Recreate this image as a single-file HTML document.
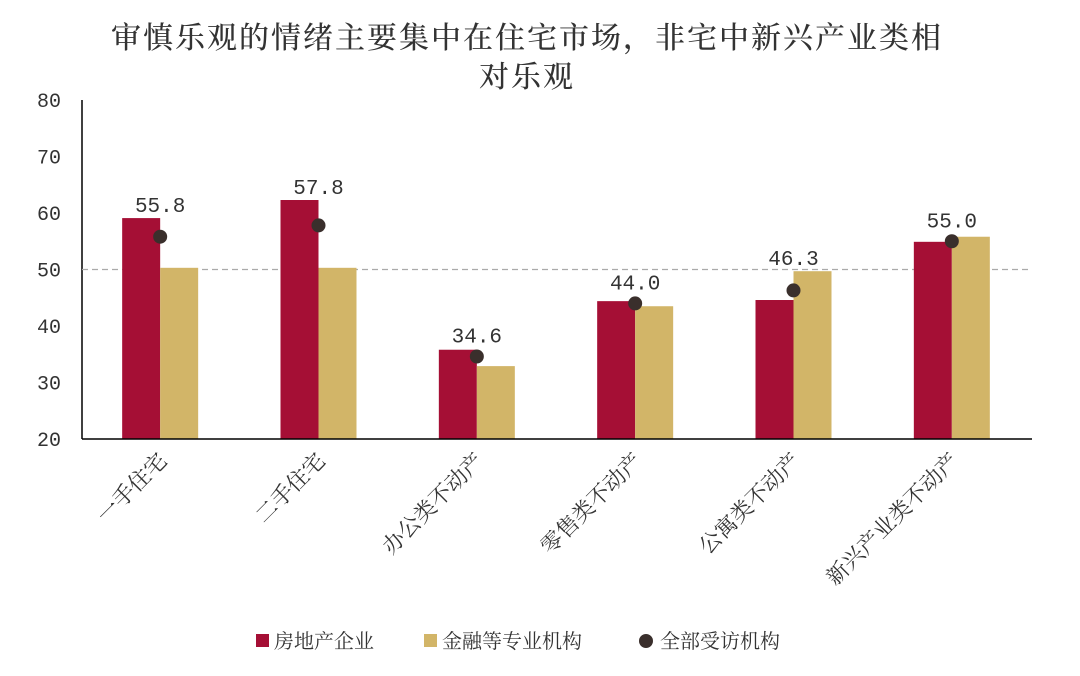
<!DOCTYPE html>
<html><head><meta charset="utf-8"><style>
body{margin:0;background:#fff;}
svg text{font-family:"Liberation Serif","Noto Serif CJK SC",serif;fill:#333;}
svg text.num{font-family:"Liberation Mono","Noto Serif CJK SC",monospace;}
</style></head><body>
<svg id="chart" width="1080" height="671" xmlns="http://www.w3.org/2000/svg">
<text x="527" y="48" font-size="30" letter-spacing="2" font-weight="500" fill="#3c3c3c" text-anchor="middle">审慎乐观的情绪主要集中在住宅市场，非宅中新兴产业类相</text>
<text x="527" y="87" font-size="30" letter-spacing="2" font-weight="500" fill="#3c3c3c" text-anchor="middle">对乐观</text>
<g id="plot"></g>
<g>
<rect x="256" y="634" width="13" height="13" fill="#a50f35"/>
<text x="274" y="648" font-size="20">房地产企业</text>
<rect x="424" y="634" width="13" height="13" fill="#d2b568"/>
<text x="442" y="648" font-size="20">金融等专业机构</text>
<circle cx="646" cy="641" r="7" fill="#3a2f2c"/>
<text x="660" y="648" font-size="20">全部受访机构</text>
</g>
</svg>
<script>
const categories=["一手住宅","二手住宅","办公类不动产","零售类不动产","公寓类不动产","新兴产业类不动产"];
const developerValues=[59.1,62.3,35.8,44.4,44.6,54.9];
const financeValues=[50.3,50.3,32.9,43.5,49.7,55.8];
const allValues=[55.8,57.8,34.6,44.0,46.3,55.0];
const yTicks=[20,30,40,50,60,70,80];
const NS="http://www.w3.org/2000/svg";
const g=document.getElementById('plot');
const x0=82,x1=1032,yMin=20,yMax=80,py0=439,py1=100;
const yS=v=>py0-(v-yMin)/(yMax-yMin)*(py0-py1);
const band=(x1-x0)/categories.length;
const xC=i=>x0+band*(i+0.5);
function mk(t,a){const e=document.createElementNS(NS,t);for(const k in a)e.setAttribute(k,a[k]);g.appendChild(e);return e;}
yTicks.forEach(v=>{
 const t=mk('text',{x:61,y:yS(v)+7,'font-size':20,'text-anchor':'end','class':'num'});t.textContent=v;
 
 
});
let ax=mk('line',{x1:x0,x2:x0,y1:py1,y2:py0,stroke:'#000','stroke-width':1.5});


let ref=mk('line',{x1:x0,x2:x1,y1:yS(50),y2:yS(50),stroke:'#aaa','stroke-width':1.3,'stroke-dasharray':'6,4'});


const bw=38;
categories.forEach((c,i)=>{
 const cx=xC(i)-1;
 const r=mk('rect',{x:cx-bw,y:yS(developerValues[i]),width:bw,height:py0-yS(developerValues[i]),fill:'#a50f35'});
 
 
 const f=mk('rect',{x:cx,y:yS(financeValues[i]),width:bw,height:py0-yS(financeValues[i]),fill:'#d2b568'});
 
 
 const d=mk('circle',{cx:cx,cy:yS(allValues[i]),r:7,fill:'#3a2f2c'});
 
 
 const top=Math.min(yS(allValues[i])-8,yS(Math.max(developerValues[i],financeValues[i])));
 const l=mk('text',{x:cx,y:top-6,'font-size':21,'text-anchor':'middle','class':'num'});
 l.textContent=allValues[i].toFixed(1);
 
 
 const lx=cx+8,ly=462;
 const cl=mk('text',{x:lx,y:ly,'font-size':22,'text-anchor':'end',transform:`rotate(-45 ${lx} ${ly})`});
 cl.textContent=c;
 
 
});
let xa=mk('line',{x1:x0,x2:x1,y1:py0,y2:py0,stroke:'#000','stroke-width':1.5});


</script>
</body></html>
